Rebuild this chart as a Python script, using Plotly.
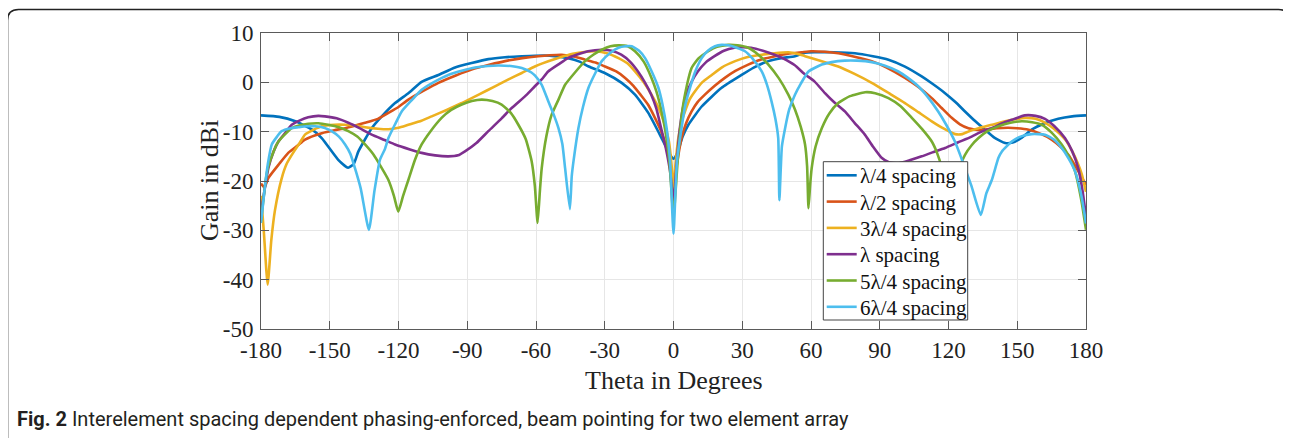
import plotly.graph_objects as go

# ---------------- data ----------------
tick_theta = [-180, -150, -120, -90, -60, -30, 0, 30, 60, 90, 120, 150, 180]
tick_gain = [-50, -40, -30, -20, -10, 0, 10]

names = ["λ/4 spacing", "λ/2 spacing", "3λ/4 spacing", "λ spacing", "5λ/4 spacing", "6λ/4 spacing"]
colors = ["#0072BD", "#D95319", "#EDB120", "#7E2F8E", "#77AC30", "#4DBEEE"]

theta_b = [-180,-172,-165,-158,-153.5,-146.3,-142,-139.5,-137.5,-131.7,-127.3,-121.5,-115.7,-109.9,-102.6,-95.3,-88.1,-80.8,-73.5,-66.2,-60.5,-54,-46,-41,-37,-30,-22.6,-16.8,-11,-5.2,-1.5,0,1.5,2.1,4,6.5,12.3,21,29.7,35,41.4,47,53,57.4,61.7,70,79.2,87,93.8,101,108.3,113,118.5,123,127.2,131.5,135.9,140,144.7,148,152,156.3,162,167.9,174,180]
gain_b = [-6.7,-7.0,-7.9,-9.5,-11.3,-15.7,-17.3,-16.5,-14.0,-9.3,-6.9,-4.2,-2.2,0.1,1.5,3.0,3.9,4.7,5.1,5.3,5.4,5.4,4.9,4.2,3.2,1.9,-0.1,-2.5,-6.2,-11.3,-14.7,-15.5,-14.5,-13.8,-11.0,-8.6,-4.9,-1.1,1.5,3.0,4.3,4.9,5.3,6.0,6.1,6.1,5.9,5.3,4.6,3.2,1.2,-0.3,-2.2,-4.0,-5.9,-7.8,-9.6,-11.2,-12.3,-12.2,-11.2,-9.6,-8.3,-7.4,-6.9,-6.7]

theta_o = [-180,-178.5,-176.8,-172,-168.1,-164,-160.8,-153.5,-148,-143.3,-134.6,-129,-124.4,-120,-115.7,-109,-102.6,-95,-88.1,-80,-73.5,-66,-59,-54,-48.8,-43,-38.6,-34,-29.9,-25,-21.1,-17.5,-14.4,-11,-8.1,-5.5,-3,-1.5,0,1.5,3.5,5.5,7.9,10.5,13.7,18,22.4,27,32.6,38,44.3,50,55.9,60,66,71.9,79,86.5,93,101,107,112.7,117,121.4,125,128.7,132,135.9,141,146.1,150,154.9,160,165,169,172.3,176,180]
gain_o = [-20.5,-21.3,-19.4,-16.5,-14.3,-12.8,-11.6,-10.3,-9.7,-9.3,-8.2,-7.4,-6.2,-5.0,-3.5,-1.7,-0.1,1.4,2.6,3.6,4.3,4.9,5.3,5.5,5.6,5.2,4.6,4.0,3.2,2.2,0.9,-0.7,-2.5,-4.6,-7.2,-9.8,-13.3,-16.5,-21.5,-16.5,-11.3,-8.3,-5.9,-4.0,-2.5,-0.7,0.9,2.3,3.6,4.6,5.3,5.8,6.1,6.3,6.2,5.9,5.2,4.3,3.0,0.9,-1.0,-3.2,-5.2,-7.2,-8.5,-9.3,-9.6,-9.6,-9.3,-9.2,-9.3,-9.6,-10.4,-11.6,-13.1,-14.7,-17.5,-20.8]

theta_y = [-180,-178.8,-177.1,-175.5,-173.9,-171,-168.8,-166,-163,-160.8,-157,-153.5,-148,-143.3,-138,-134.6,-129,-124.4,-120,-115.7,-110,-105.5,-99,-92.4,-85,-77.9,-72,-66.2,-60.5,-57.5,-50,-44,-38,-34,-29,-24,-20,-16.8,-13,-9.6,-6.5,-3.8,-2,-0.8,0,0.8,2.1,3.5,5,7,9.4,12.5,16.7,21,26.9,32,38.5,44,50.1,54,57.4,64,71.9,79,86.5,94,101,107,112.7,118,122.9,126,129,133.1,139,144.7,149,153.5,158,162.2,166,170.9,174,176.5,178.2,180]
gain_y = [-23,-30,-41,-32,-25.9,-19.5,-16.5,-14.3,-12.2,-10.6,-9.6,-8.9,-8.6,-8.6,-8.8,-9.1,-9.4,-9.5,-9.2,-8.6,-7.8,-6.9,-5.6,-4.2,-2.5,-0.8,0.6,1.9,3.2,3.8,5.0,5.8,6.2,6.3,5.9,4.9,3.8,2.2,0,-2.5,-5.2,-8.6,-12,-17,-22,-17,-11.3,-8,-5.9,-3.5,-1.8,0,1.5,3.0,4.3,5.1,5.6,5.9,6.1,5.8,5.3,4.4,3.2,1.7,-0.1,-2.2,-4.2,-6.1,-7.9,-9.4,-10.5,-10.5,-9.9,-9.3,-8.6,-7.9,-7.5,-7.2,-7.4,-8.2,-9.4,-11.6,-14,-16.5,-18.7,-22.2]

theta_p = [-180,-178.5,-176.8,-174.5,-172.4,-169,-166.6,-163,-159.4,-155,-152.1,-147,-141.9,-137,-131.7,-126,-121.5,-115,-109.9,-104,-98.3,-94,-91,-86,-80.8,-75,-70.6,-64,-60.5,-57.5,-54.7,-50,-46,-41,-37.3,-31.5,-27,-22.8,-19,-15.5,-12.5,-9.7,-7.5,-5.4,-3.5,-1.5,0,1.3,2.6,4,5.5,8,10.6,14,17.9,22,26.6,30,33.9,39,44.1,48,52.8,57.4,61.5,66.1,70,74.8,79,83.5,87,90.8,94,98.1,103,108.3,113,118.5,124,130.1,134,138.8,143,147.6,153.3,158,162.1,166,170.8,174,176.6,178.5,180]
gain_p = [-26.5,-22,-17.4,-14,-12,-10,-8.6,-7.7,-7.1,-6.8,-6.9,-7.3,-8.2,-9.3,-10.6,-11.7,-12.6,-13.6,-14.3,-14.8,-15.0,-14.8,-14.0,-12.3,-9.9,-7.3,-5.2,-2.5,-0.8,0.6,2.2,3.7,4.9,5.8,6.3,6.6,6.4,5.6,4.2,2.2,0,-2.5,-5.3,-9.3,-13,-18,-24,-17,-10,-5.5,-2.5,0.2,2.2,4.0,5.3,6.4,7.0,7.1,7.0,6.4,5.6,4.8,3.5,1.6,0.2,-2.2,-4.0,-5.9,-8.2,-10.6,-13,-15.3,-16.2,-16.4,-15.8,-15.0,-14.2,-13.3,-12.2,-11.0,-10.1,-9.3,-8.4,-7.6,-6.7,-6.8,-7.4,-8.8,-11.3,-14,-17.4,-22,-27.2]

theta_g = [-180,-179,-178,-176.8,-174.5,-172.4,-169,-166.6,-163,-159.4,-155,-150.7,-146,-141.9,-138,-134.6,-131,-127.3,-124.4,-122,-120.1,-118,-115.7,-112.8,-109.9,-106,-101.2,-97,-92.4,-88,-83.7,-79,-75,-71,-67.7,-64.5,-61.9,-60.5,-59.3,-58.3,-57.5,-55.5,-53.2,-50,-47.3,-43,-38.6,-35,-31.3,-27.5,-24,-20,-16.8,-13,-9.6,-7.5,-5.2,-3.5,-1.8,0,1.8,3.5,5,7.9,11,15.2,19,23.9,28,32.6,37,41.4,46,50.1,53,55.5,57.4,58.3,58.9,59.6,60.3,62,64.7,68,71.9,77,83.6,88,93.8,99,104,108.5,112.7,115,117.1,120,123,125,127.2,130,133.1,137,141.8,147,152,156.5,160.7,165,169.4,172.5,175.2,178,180]
gain_g = [-28,-24,-20,-17,-14,-12,-10.3,-9.3,-8.7,-8.4,-8.3,-8.6,-9.1,-9.9,-11,-12.6,-14.6,-17.4,-19.8,-23,-26.2,-23,-19.8,-15.7,-12.6,-9.9,-7.2,-5.6,-4.5,-3.8,-3.5,-3.8,-4.5,-6.2,-8.6,-11.5,-16,-21,-28.5,-22,-17.4,-11,-6.6,-3.3,-0.5,2.0,4.3,5.6,6.6,7.3,7.5,7.3,6.3,4.2,0.9,-1.8,-5.9,-10,-16,-27,-16,-7,-2.5,2.9,4.9,6.3,7.2,7.6,7.5,7.0,5.6,3.6,0.8,-2.5,-5.5,-9,-12.6,-17,-25.5,-21,-17.4,-13,-9.3,-6.3,-4.2,-2.8,-2.0,-2.2,-3.2,-4.8,-7.2,-9.5,-12,-14.3,-17.4,-26,-20,-17,-14.7,-12.8,-11.3,-9.9,-8.9,-8.2,-7.9,-8.1,-8.6,-10.2,-12.6,-15,-18,-24,-29.9]

theta_c = [-180,-178.5,-177,-175.3,-173,-171,-167,-163.7,-160,-156.4,-152.5,-149.2,-146,-143.3,-141,-139,-136.5,-132.9,-130.5,-128.1,-126,-124.4,-121.5,-118.6,-114,-109.9,-104,-98.3,-92,-86.6,-81,-76.5,-71,-66.2,-62,-60.5,-57.5,-54.6,-52.3,-50.2,-48.5,-47.3,-45.2,-44.4,-43.5,-41.5,-39.5,-37.1,-34,-31.3,-27.5,-24,-21,-18.2,-15,-12.4,-9.5,-6.6,-4.8,-3,-1.5,0,1.5,3.5,5.2,7.2,9.5,12.3,15,18.1,21,23.9,27.5,31.2,34.5,38.5,40.8,42.8,44.5,45.7,46.2,47.3,48.7,50.5,53,55.5,58.9,64.7,69,74.8,80,86.5,92,98.1,102,106.8,111,115.5,119,122.8,125,127.2,130,134.1,136.5,138.9,141.8,143.3,147.6,152,156.3,162.1,166,169.4,172.5,175.2,178,180]
gain_c = [-28.5,-22,-16.5,-12.6,-11,-9.9,-9.3,-9.1,-8.9,-8.9,-9.2,-9.9,-11,-12.6,-14.5,-17.4,-21.5,-29.9,-22,-15.7,-13.6,-11.3,-8.5,-5.9,-3.5,-1.5,0.2,1.5,2.4,3.0,3.3,3.4,3.3,2.9,2.0,1.4,-0.5,-3.9,-6.5,-9.3,-12.5,-17.4,-25.7,-19,-15.5,-9.3,-5,-1.1,2.0,4.3,6.0,7.0,7.3,7.3,6.4,4.9,2.2,-1.1,-4.5,-9.3,-16,-30.7,-16,-9.3,-4.5,-1.1,2.2,4.9,6.4,7.3,7.6,7.5,7.0,6.3,4.8,2.2,-0.5,-3.9,-7.5,-11.3,-23.9,-13,-9.3,-5.5,-2.5,-0.3,2.2,3.6,4.1,4.4,4.4,4.1,3.4,2.2,1.0,-0.8,-3.0,-5.9,-8.6,-12,-14.6,-17.4,-21,-26.9,-22.5,-19.8,-15.3,-14,-12,-10.9,-10.5,-10.6,-11.6,-13.3,-15.5,-18,-23,-28.6]

series = [(theta_b, gain_b), (theta_o, gain_o), (theta_y, gain_y),
          (theta_p, gain_p), (theta_g, gain_g), (theta_c, gain_c)]

# ---------------- figure ----------------
OFF = 8                               # page body margin of the html page
W, H = 1291 - OFF, 438 - OFF
L, R, T, B = 261, 1086, 33, 329       # plot-area box, in page pixels
pw, ph = R - L, B - T

def px(x):
    return (x - L) / pw

def py(y):
    return (B - y) / ph

fig = go.Figure()
for (th, g), nm, col in zip(series, names, colors):
    fig.add_trace(go.Scatter(x=th, y=g, mode="lines", name=nm, showlegend=False,
                             line=dict(color=col, width=2.6, shape="spline", smoothing=0.5)))

serif = "Liberation Serif, Times New Roman, serif"
axis_common = dict(showline=True, linecolor="#5a5a5a", linewidth=1, mirror="ticks",
                   ticks="inside", ticklen=8, tickcolor="#5a5a5a", tickwidth=1,
                   showgrid=True, gridcolor="#e6e6e6", gridwidth=1, zeroline=False,
                   tickfont=dict(family=serif, size=23, color="#222222"))

fig.update_layout(
    width=W, height=H,
    margin=dict(l=L - OFF, r=W - (R - OFF), t=T - OFF, b=H - (B - OFF), pad=0),
    paper_bgcolor="white", plot_bgcolor="white",
    showlegend=False,
    xaxis=dict(range=[-180, 180], tickvals=tick_theta,
               ticktext=[str(v) for v in tick_theta], ticklabelstandoff=0, **axis_common),
    yaxis=dict(range=[-50, 10], tickvals=tick_gain,
               ticktext=[str(v) for v in tick_gain], ticklabelstandoff=2, **axis_common),
)

# legend box (drawn with shapes + text so its spacing matches the reference)
fig.add_shape(type="rect", xref="paper", yref="paper",
              x0=px(823.3), x1=px(967.7), y0=py(320), y1=py(161.7),
              fillcolor="white", line=dict(color="#444444", width=1), layer="above")
for i, (nm, col) in enumerate(zip(names, colors)):
    yy = 175.3 + 26.3 * i
    fig.add_shape(type="line", xref="paper", yref="paper",
                  x0=px(826.7), x1=px(856.7), y0=py(yy), y1=py(yy),
                  line=dict(color=col, width=2.6), layer="above")
    fig.add_annotation(x=px(858), y=py(yy + 1), xref="paper", yref="paper", text=nm,
                       showarrow=False, xanchor="left", yanchor="middle",
                       font=dict(family=serif, size=21, color="#111111"))

# axis titles
fig.add_annotation(x=0.5, y=py(380), xref="paper", yref="paper", text="Theta in Degrees",
                   showarrow=False, xanchor="center", yanchor="middle",
                   font=dict(family=serif, size=26, color="#222222"))
fig.add_annotation(x=px(209), y=0.5, xref="paper", yref="paper", text="Gain in dBi",
                   showarrow=False, xanchor="center", yanchor="middle", textangle=-90,
                   font=dict(family=serif, size=26, color="#222222"))

# caption
fig.add_annotation(x=px(15), y=py(419), xref="paper", yref="paper",
                   text="<b>Fig. 2</b> Interelement spacing dependent phasing-enforced, beam pointing for two element array",
                   showarrow=False, xanchor="left", yanchor="middle",
                   font=dict(family="Roboto, Noto Sans, sans-serif", size=20, color="#231f20"))

# rounded outer frame
xl, xr, yt, yb = px(7.5), px(1289.5), py(9.5), py(470)
rx, ry = 11 / pw, 11 / ph
path = (f"M {xl},{yb} L {xl},{yt - ry} Q {xl},{yt} {xl + rx},{yt} "
        f"L {xr - rx},{yt} Q {xr},{yt} {xr},{yt - ry} L {xr},{yb}")
fig.add_shape(type="path", path=path, xref="paper", yref="paper",
              line=dict(color="#222222", width=1.6))

fig.write_html("out.html")
